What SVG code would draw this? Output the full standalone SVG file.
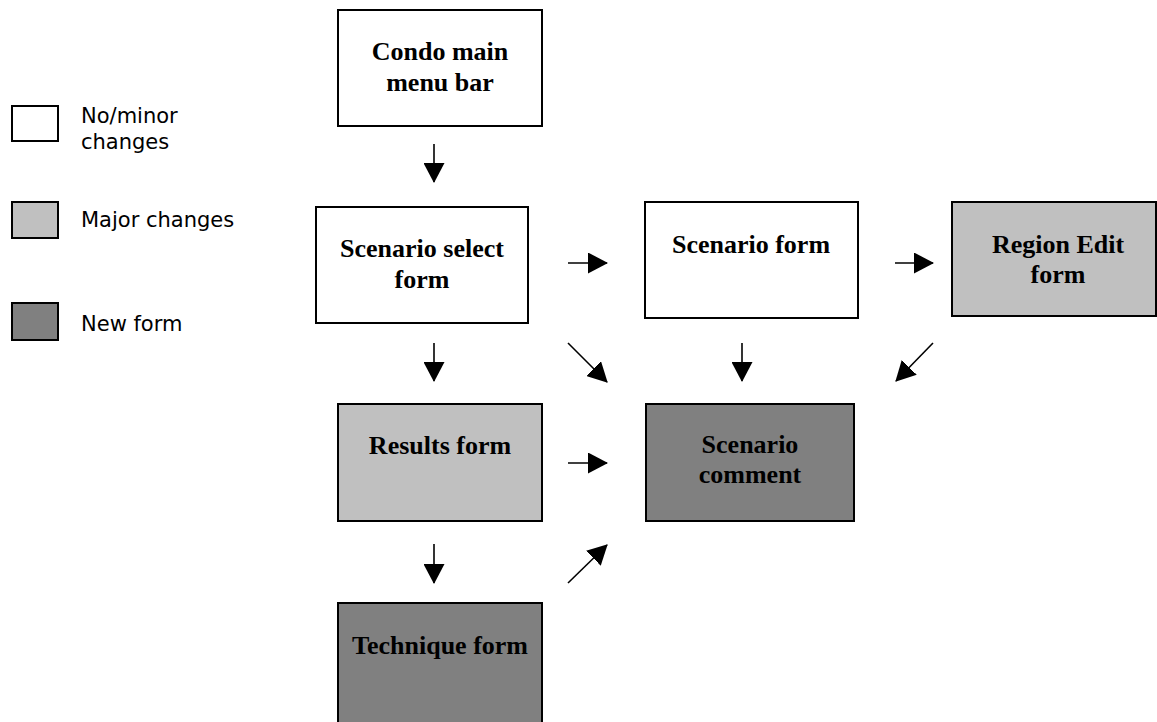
<svg xmlns="http://www.w3.org/2000/svg" width="1157" height="722" viewBox="0 0 1157 722">
<style>
.box{stroke:#000;stroke-width:2}
.w{fill:#fff}.l{fill:#c0c0c0}.d{fill:#808080}
.t{font-family:"Liberation Serif","Times New Roman",serif;font-weight:bold;font-size:26px;fill:#000;text-anchor:middle}
.lg{font-family:"DejaVu Sans",Verdana,sans-serif;font-size:21px;fill:#000}
.c{stroke:#000;stroke-width:1.6;fill:none;marker-end:url(#ah)}
</style>
<defs>
<marker id="ah" markerUnits="userSpaceOnUse" viewBox="0 0 20 21" refX="19" refY="10.5" markerWidth="20" markerHeight="21" orient="auto">
<path d="M0,0 L20,10.5 L0,21 z" fill="#000"/>
</marker>
</defs>
<rect width="1157" height="722" fill="#fff"/>
<g id="legend">
<rect class="box w" x="12" y="106" width="46" height="35"/>
<text class="lg" x="81" y="123">No/minor</text>
<text class="lg" x="81" y="149">changes</text>
<rect class="box l" x="12" y="202" width="46" height="36"/>
<text class="lg" x="81" y="227">Major changes</text>
<rect class="box d" x="12" y="303" width="46" height="37"/>
<text class="lg" x="81" y="331">New form</text>
</g>
<g id="condo">
<rect class="box w" x="338" y="10" width="204" height="116"/>
<text class="t" x="440" y="60">Condo main</text>
<text class="t" x="440" y="91">menu bar</text>
</g>
<g id="scenario-select">
<rect class="box w" x="316" y="207" width="212" height="116"/>
<text class="t" x="422" y="257">Scenario select</text>
<text class="t" x="422" y="288">form</text>
</g>
<g id="scenario-form">
<rect class="box w" x="645" y="202" width="213" height="116"/>
<text class="t" x="751" y="253">Scenario form</text>
</g>
<g id="region-edit">
<rect class="box l" x="952" y="202" width="204" height="114"/>
<text class="t" x="1058" y="253">Region Edit</text>
<text class="t" x="1058" y="283">form</text>
</g>
<g id="results">
<rect class="box l" x="338" y="404" width="204" height="117"/>
<text class="t" x="440" y="454">Results form</text>
</g>
<g id="scenario-comment">
<rect class="box d" x="646" y="404" width="208" height="117"/>
<text class="t" x="750" y="453">Scenario</text>
<text class="t" x="750" y="483">comment</text>
</g>
<g id="technique">
<rect class="box d" x="338" y="603" width="204" height="130"/>
<text class="t" x="440" y="654">Technique form</text>
</g>
<g id="connectors">
<line class="c" x1="434" y1="144" x2="434" y2="182"/>
<line class="c" x1="434" y1="343" x2="434" y2="381"/>
<line class="c" x1="568" y1="263" x2="607" y2="263"/>
<line class="c" x1="568" y1="343" x2="607" y2="382"/>
<line class="c" x1="742" y1="343" x2="742" y2="381"/>
<line class="c" x1="895" y1="263" x2="933" y2="263"/>
<line class="c" x1="933" y1="343" x2="896" y2="381"/>
<line class="c" x1="568" y1="463" x2="607" y2="463"/>
<line class="c" x1="434" y1="544" x2="434" y2="583"/>
<line class="c" x1="568" y1="583" x2="607" y2="545"/>
</g>
</svg>
